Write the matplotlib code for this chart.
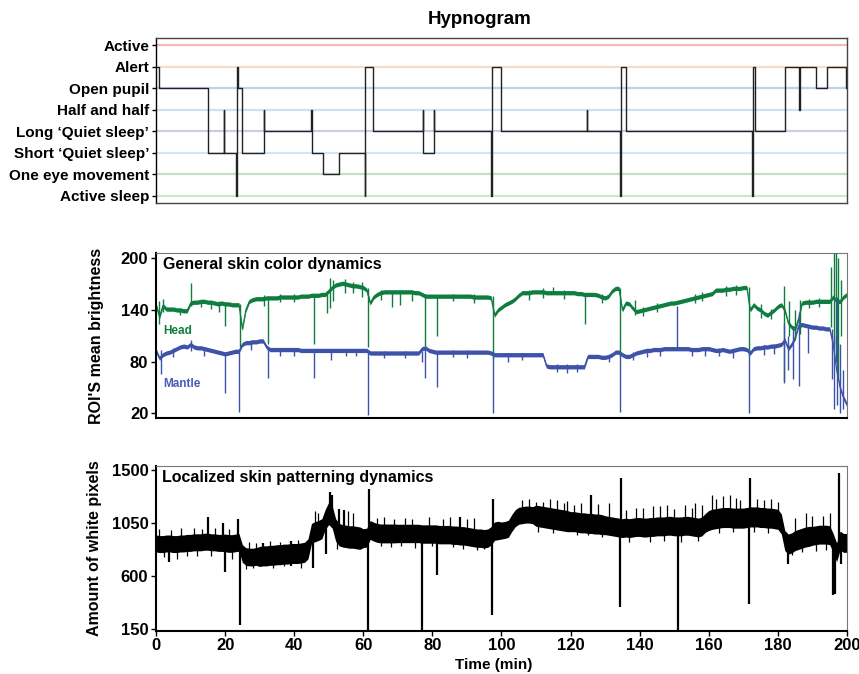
import numpy as np
import matplotlib
matplotlib.use("Agg")
import matplotlib.pyplot as plt

plt.rcParams['font.family'] = ['Liberation Sans', 'DejaVu Sans']
plt.rcParams['font.weight'] = 'bold'

# ---------- hypnogram ----------
states = ["Active sleep", "One eye movement", "Short \u2018Quiet sleep\u2019",
          "Long \u2018Quiet sleep\u2019", "Half and half", "Open pupil", "Alert", "Active"]
state_colors = ['#cfe6cf', '#c6dec6', '#d3e6f4', '#ccccE6', '#cce2f4',
                '#c4d0e6', '#f8dcc6', '#f6b8b8']

hyp_t = [0, 0.8, 15.1, 19.6, 19.8, 23.2, 23.4, 23.6, 24.9, 31.3, 31.4, 45.0, 45.1,
         48.3, 53.0, 60.4, 60.6, 62.8, 77.3, 77.4, 80.4, 80.5, 97.1, 97.3, 100.0,
         124.7, 124.8, 134.3, 134.5, 136.0, 172.5, 172.7, 173.5, 182.0, 186.2, 186.3,
         190.9, 194.3, 199.8, 200]
hyp_state = [6, 5, 2, 4, 2, 0, 6, 5, 2, 4, 3, 4, 2,
             1, 2, 0, 6, 3, 4, 2, 4, 3, 0, 6, 3,
             4, 3, 0, 6, 3, 0, 6, 3, 6, 4, 6,
             5, 6, 5, 5]

# ---------- skin colour (per minute) ----------
minutes = np.arange(0, 201)
head = [146, 132, 145, 141, 141, 141, 140, 140, 139, 139,
        148, 149, 149, 150, 150, 149, 149, 148, 147, 148,
        147, 147, 146, 146, 146, 118, 140, 150, 152, 153,
        153, 153, 154, 154, 154, 154, 155, 155, 155, 155,
        155, 155, 156, 156, 156, 157, 157, 157, 158, 158,
        162, 166, 169, 170, 171, 170, 169, 168, 168, 167,
        166, 163, 148, 155, 158, 160, 161, 161, 161, 161,
        161, 161, 161, 161, 161, 160, 160, 158, 156, 156,
        156, 156, 156, 156, 156, 156, 156, 156, 156, 156,
        156, 156, 155, 155, 155, 155, 155, 154, 134, 140,
        143, 146, 148, 150, 153, 157, 160, 160, 160, 161,
        161, 161, 161, 160, 160, 160, 160, 160, 160, 160,
        160, 160, 159, 159, 158, 158, 158, 158, 157, 155,
        154, 156, 162, 165, 165, 140, 148, 147, 142, 138,
        139, 140, 141, 142, 143, 144, 145, 146, 147, 148,
        148, 149, 150, 151, 152, 153, 154, 155, 156, 157,
        158, 159, 163, 163, 163, 164, 164, 165, 165, 165,
        166, 166, 140, 146, 142, 140, 136, 134, 137, 140,
        144, 146, 140, 125, 120, 118, 130, 148, 149, 149,
        149, 150, 150, 150, 150, 150, 155, 150, 150, 155,
        158]
mantle = [93, 84, 88, 90, 91, 93, 95, 97, 98, 97,
          100, 97, 96, 96, 95, 94, 93, 92, 91, 90,
          89, 90, 91, 92, 92, 100, 102, 102, 103, 103,
          104, 104, 97, 94, 94, 94, 94, 94, 94, 94,
          94, 94, 93, 93, 93, 93, 93, 93, 93, 93,
          93, 93, 93, 93, 93, 93, 93, 93, 93, 93,
          93, 93, 90, 90, 90, 90, 90, 90, 90, 90,
          90, 90, 90, 90, 90, 90, 90, 95, 96, 93,
          92, 91, 91, 91, 91, 91, 91, 91, 91, 91,
          91, 91, 91, 91, 91, 91, 91, 90, 88, 88,
          88, 88, 88, 88, 88, 88, 88, 88, 88, 88,
          88, 88, 88, 75, 74, 74, 74, 74, 74, 74,
          74, 74, 74, 74, 74, 86, 86, 86, 86, 85,
          85, 86, 88, 91, 91, 88, 86, 86, 88, 90,
          91, 92, 93, 93, 94, 94, 94, 95, 95, 95,
          95, 95, 95, 95, 95, 94, 94, 94, 95, 95,
          95, 94, 93, 93, 94, 93, 92, 93, 94, 95,
          95, 94, 90, 95, 96, 96, 97, 97, 98, 98,
          99, 100, 105, 95, 100, 108, 122, 123, 122, 121,
          120, 120, 119, 119, 118, 118, 100, 70, 50, 38,
          30]
head_spikes = [(0.8, 124, 150), (2.0, 138, 153), (10.2, 145, 171), (18.1, 138, 150),
               (20.1, 121, 148), (24.2, 97, 147), (31.2, 145, 157), (32.4, 101, 155),
               (45.7, 101, 158), (49.5, 136, 162), (50.4, 142, 177), (51.3, 150, 175),
               (54.7, 160, 176), (59.6, 155, 172), (61.4, 97, 166), (68.2, 143, 162),
               (70.6, 146, 162), (74.0, 150, 162), (77.8, 98, 158), (81.2, 110, 156),
               (97.5, 83, 156), (115.0, 158, 167), (124.3, 124, 160), (134.3, 85, 166),
               (138.6, 134, 152), (171.5, 88, 167), (181.8, 57, 168), (183.3, 110, 150),
               (185.0, 105, 140), (186.5, 112, 152), (195.5, 120, 190), (196.2, 100, 206),
               (196.9, 80, 206), (197.5, 60, 200), (198.3, 110, 175),
               (7.0, 134, 142), (13.0, 143, 151), (16.0, 141, 150), (36.0, 149, 158),
               (40.0, 149, 158), (57.0, 160, 172), (65.0, 152, 163), (86.0, 150, 159),
               (92.0, 148, 158), (108.0, 152, 163), (112.0, 154, 165), (118.0, 153, 163),
               (129.0, 148, 158), (141.0, 133, 144), (145.0, 138, 148), (156.0, 148, 159),
               (158.0, 150, 161), (165.0, 156, 168), (168.0, 157, 169), (175.0, 131, 147),
               (178.0, 130, 141), (189.0, 142, 153), (192.0, 143, 154)]
mantle_spikes = [(1.5, 66, 93), (10.2, 92, 105), (20.1, 43, 90), (24.0, 22, 92),
                 (32.4, 61, 97), (45.7, 61, 93), (50.7, 82, 93), (61.5, 18, 93),
                 (76.9, 80, 92), (77.8, 61, 96), (81.2, 51, 92), (97.5, 20, 91),
                 (134.4, 22, 91), (150.9, 93, 145), (171.6, 20, 95), (181.8, 55, 124),
                 (183.0, 70, 110), (184.4, 60, 121), (186.0, 52, 138), (188.8, 90, 120),
                 (195.6, 60, 118), (196.2, 25, 110), (197.2, 30, 155), (198.0, 20, 100),
                 (198.8, 25, 70),
                 (5.0, 85, 96), (14.0, 86, 97), (27.5, 94, 105), (36.0, 86, 96),
                 (40.0, 87, 96), (55.0, 87, 95), (58.0, 86, 95), (66.0, 84, 92),
                 (72.0, 84, 92), (86.0, 85, 93), (90.0, 84, 93), (102.0, 80, 90),
                 (106.0, 82, 90), (116.0, 68, 77), (119.0, 67, 77), (122.0, 68, 77),
                 (131.0, 80, 88), (138.0, 82, 91), (142.0, 85, 94), (146.0, 86, 96),
                 (155.0, 86, 96), (159.0, 87, 97), (163.0, 86, 96), (167.0, 84, 95),
                 (176.0, 88, 99), (179.0, 89, 100)]

# ---------- white pixels (per minute) ----------
white_px = [875, 870, 870, 875, 875, 870, 870, 875, 875, 880,
            880, 885, 885, 885, 890, 890, 885, 885, 880, 880,
            880, 875, 875, 880, 885, 790, 765, 760, 760, 765,
            765, 770, 770, 775, 775, 780, 780, 785, 785, 790,
            790, 790, 795, 800, 830, 960, 975, 985, 1000, 1080,
            1130, 1100, 990, 950, 940, 935, 930, 930, 925, 920,
            920, 925, 990, 975, 965, 960, 960, 960, 960, 960,
            960, 960, 960, 960, 960, 960, 960, 955, 955, 955,
            955, 955, 950, 950, 950, 950, 945, 945, 940, 940,
            935, 930, 925, 920, 920, 915, 920, 940, 980, 985,
            985, 990, 1000, 1050, 1090, 1110, 1115, 1120, 1120, 1115,
            1110, 1105, 1100, 1095, 1090, 1085, 1080, 1075, 1070, 1065,
            1060, 1060, 1055, 1050, 1050, 1045, 1045, 1040, 1040, 1035,
            1030, 1025, 1020, 1015, 1010, 1005, 1010, 1005, 1010, 1015,
            1015, 1010, 1010, 1015, 1015, 1020, 1020, 1020, 1025, 1025,
            1020, 1020, 1020, 1025, 1025, 1020, 1015, 1010, 1020, 1050,
            1070, 1080, 1085, 1090, 1095, 1095, 1095, 1090, 1090, 1090,
            1090, 1095, 1100, 1100, 1100, 1095, 1095, 1090, 1090, 1085,
            1080, 1040, 900, 870, 880, 900, 910, 920, 930, 935,
            940, 945, 950, 950, 950, 945, 880, 800, 900, 880,
            880]
# band half-width for each 10-minute block
white_spread = [72, 72, 75, 85, 85, 95, 80, 78, 78, 78, 72,
                90, 85, 80, 80, 80, 85, 85, 85, 80, 80]
white_spikes = [(3.7, 722, 870), (15.0, 880, 1101), (19.9, 634, 880), (19.5, 870, 1050),
                (23.8, 850, 1083), (24.2, 181, 880), (31.0, 680, 880), (39.0, 680, 900),
                (45.4, 668, 960), (49.3, 790, 1050), (50.3, 1050, 1313), (51.0, 1050, 1290),
                (53.0, 940, 1170), (54.5, 930, 1160), (61.3, 142, 930), (61.6, 930, 1340),
                (76.9, 142, 955), (81.2, 606, 955), (88.0, 940, 1100), (97.2, 266, 940),
                (97.6, 940, 1256), (126.0, 1045, 1287), (134.4, 337, 1010),
                (134.7, 1000, 1426), (151.2, 142, 1020), (171.6, 365, 1090),
                (171.9, 1095, 1426), (183.0, 700, 870), (196.0, 439, 900),
                (196.6, 450, 880), (197.6, 880, 1470), (198.3, 700, 950)]
# smaller excursions along the band
white_jitter = [(110.0, 1100, 1230), (114.0, 1090, 1250), (116.0, 1080, 1240),
                (118.0, 1070, 1220), (121.0, 1060, 1200), (128.0, 1040, 1210),
                (139.0, 1015, 1180), (144.0, 1015, 1190), (148.0, 1025, 1200),
                (153.0, 1025, 1200), (156.0, 1015, 1220), (161.0, 1080, 1290),
                (164.0, 1095, 1280), (166.0, 1095, 1290), (168.0, 1090, 1260),
                (174.0, 1100, 1250), (176.0, 1095, 1240), (188.0, 930, 1130),
                (193.0, 950, 1110), (195.0, 945, 1130),
                (1.0, 870, 1000), (4.3, 875, 990), (7.2, 875, 1005), (11.0, 885, 1010),
                (13.2, 885, 1000), (17.0, 885, 1010), (21.0, 875, 995), (2.2, 760, 875),
                (6.0, 745, 870), (9.0, 770, 880), (12.0, 770, 885), (16.0, 765, 885),
                (22.0, 740, 875), (27.0, 760, 890), (29.0, 765, 880), (33.0, 775, 895),
                (36.0, 780, 890), (41.0, 790, 905), (26.0, 660, 765), (28.0, 670, 760),
                (34.0, 665, 775), (37.0, 680, 785), (42.0, 670, 795), (46.0, 975, 1150),
                (47.0, 985, 1130), (55.5, 935, 1150), (57.0, 930, 1130), (52.3, 830, 990),
                (64.0, 965, 1090), (66.0, 960, 1100), (69.0, 960, 1085), (72.0, 960, 1095),
                (74.0, 960, 1080), (79.0, 955, 1100), (83.0, 950, 1085), (85.0, 950, 1100),
                (90.0, 935, 1080), (92.0, 925, 1090), (65.0, 850, 960), (68.0, 845, 960),
                (71.0, 855, 960), (75.0, 840, 960), (80.0, 850, 955), (86.0, 845, 945),
                (89.0, 830, 940), (93.0, 820, 920), (95.0, 825, 915), (106.0, 1115, 1240),
                (108.0, 1120, 1250), (112.0, 1100, 1225), (119.0, 1065, 1235),
                (123.0, 1050, 1220), (131.0, 1025, 1215), (110.5, 975, 1110),
                (115.0, 965, 1085), (122.0, 950, 1055), (125.0, 945, 1045),
                (129.0, 930, 1035), (136.0, 1010, 1160), (141.0, 1010, 1175),
                (146.0, 1020, 1190), (150.0, 1020, 1165), (155.0, 1020, 1180),
                (158.0, 1020, 1200), (137.0, 885, 1005), (143.0, 890, 1015),
                (147.0, 895, 1020), (152.0, 890, 1020), (157.0, 900, 1010),
                (162.0, 1085, 1250), (169.0, 1090, 1240), (178.0, 1090, 1255),
                (180.0, 1080, 1230), (163.0, 965, 1085), (167.0, 975, 1090),
                (173.0, 975, 1100), (177.0, 965, 1090), (185.0, 900, 1090),
                (190.0, 940, 1110), (184.0, 780, 880), (187.0, 800, 920),
                (191.0, 810, 945), (194.0, 820, 950)]

GREEN = '#0e7d3f'
BLUE = '#3d52a8'

fig = plt.figure(figsize=(8.59, 6.74), dpi=100)
L, W, H = 0.1816, 0.8044, 0.2448
ax1 = fig.add_axes([L, 0.6984, W, H])
ax2 = fig.add_axes([L, 0.3794, W, H])
ax3 = fig.add_axes([L, 0.0642, W, H])

# hypnogram
for i, c in enumerate(state_colors):
    ax1.axhline(i, color=c, lw=1.6, zorder=1)
ax1.plot(hyp_t, hyp_state, drawstyle='steps-post', color='#222222', lw=1.0, zorder=3)
ax1.set_xlim(0, 200)
ax1.set_ylim(-0.35, 7.33)
ax1.set_yticks(range(len(states)))
ax1.set_yticklabels(states, fontsize=11, fontweight='bold')
ax1.set_xticks([])
ax1.tick_params(axis='y', length=3, width=1, pad=2)
for s in ax1.spines.values():
    s.set_color('#444444')
    s.set_linewidth(1.0)
ax1.spines['left'].set_color('black')
fig.text(480 / 859, 1 - 19 / 674, "Hypnogram", ha='center', va='center',
         fontsize=13.5, fontweight='bold')


def draw_band(ax, values, spread, spikes, color, lw_spike):
    v = np.asarray(values, dtype=float)
    ax.fill_between(minutes, v - spread, v + spread, color=color, lw=0, zorder=2)
    ax.plot(minutes, v, color=color, lw=0.8, zorder=2)
    st, lo, hi = zip(*spikes)
    ax.vlines(st, lo, hi, color=color, lw=lw_spike, zorder=3)


# skin colour
draw_band(ax2, head, 2.5, head_spikes, GREEN, 1.0)
draw_band(ax2, mantle, 2.5, mantle_spikes, BLUE, 1.0)
ax2.set_xlim(0, 200)
ax2.set_ylim(14.2, 205.8)
ax2.set_yticks([20, 80, 140, 200])
ax2.set_xticks([])
ax2.set_ylabel("ROI'S mean brightness", fontsize=11.5, fontweight='bold')
ax2.yaxis.set_label_coords(-0.075, 0.5)
ax2.text(0.0106, 0.903, "General skin color dynamics", transform=ax2.transAxes,
         fontsize=11.5, fontweight='bold', va='baseline')
ax2.text(0.01, 0.509, "Head", transform=ax2.transAxes, color=GREEN,
         fontsize=8.5, fontweight='bold', va='baseline')
ax2.text(0.01, 0.19, "Mantle", transform=ax2.transAxes, color='#4a5cba',
         fontsize=8.5, fontweight='bold', va='baseline')

# white pixels
spread_min = np.repeat(white_spread, 10)[:len(minutes)]
draw_band(ax3, white_px, spread_min, white_spikes, 'black', 1.6)
jt, jlo, jhi = zip(*white_jitter)
ax3.vlines(jt, jlo, jhi, color='black', lw=0.9, zorder=3)
ax3.set_xlim(0, 200)
ax3.set_ylim(135.6, 1534)
ax3.set_yticks([150, 600, 1050, 1500])
ax3.set_xticks(range(0, 201, 20))
ax3.set_ylabel("Amount of white pixels", fontsize=11.5, fontweight='bold')
ax3.yaxis.set_label_coords(-0.0775, 0.5)
ax3.set_xlabel("Time (min)", fontsize=11, fontweight='bold')
ax3.xaxis.set_label_coords((494 - 156) / 691, -0.165)
ax3.text(0.008, 0.903, "Localized skin patterning dynamics", transform=ax3.transAxes,
         fontsize=11.5, fontweight='bold', va='baseline')

for ax in (ax2, ax3):
    ax.tick_params(length=3.5, width=1, pad=2, labelsize=12)
    for lab in ax.get_xticklabels() + ax.get_yticklabels():
        lab.set_fontweight('bold')
    ax.spines['left'].set_linewidth(1.5)
    ax.spines['bottom'].set_linewidth(1.5)
    ax.spines['top'].set_color('#777777')
    ax.spines['right'].set_color('#777777')

fig.savefig('out.png', dpi=100)
